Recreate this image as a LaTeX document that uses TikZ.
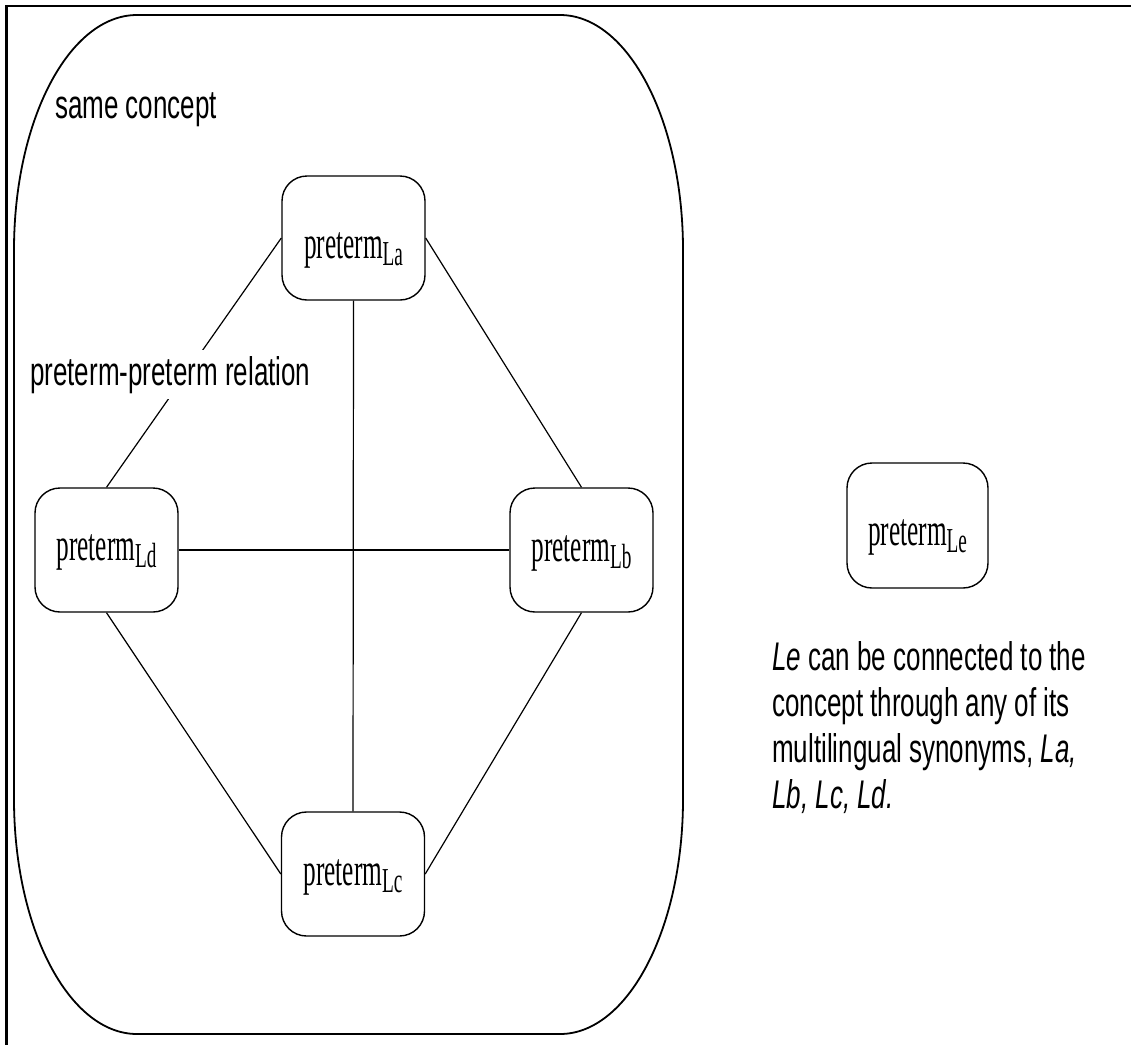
\documentclass[tikz,border=0pt]{standalone}
\usepackage{fontspec}
% narrow sans for the annotations, narrow serif for the term boxes
\newfontfamily\labelsans[FakeStretch=0.65]{Liberation Sans}
\newfontfamily\termserif[FakeStretch=0.55]{Liberation Serif}
\newcommand\term[1]{{\termserif\fontsize{46}{46}\selectfont preterm\raisebox{-7pt}{\fontsize{35}{35}\selectfont #1}}}
\newcommand\notefont{\labelsans\fontsize{40}{45.7}\selectfont}

\begin{document}
\begin{tikzpicture}[x=1pt, y=-1pt,
  pbox/.style={draw, line width=1.4pt, rounded corners=25pt,
    minimum width=143pt, minimum height=124pt, inner sep=0pt,
    text depth=0pt, text height=#1},
  link/.style={line width=1.2pt},
  note/.style={inner sep=0pt, font=\notefont}]

\useasboundingbox (0,0) rectangle (1131,1044);

% page frame (left and top edges)
\draw[line width=2.8pt] (6.5,1050) -- (6.5,6) -- (1140,6);

% the "same concept" region
\draw[line width=1.8pt]
  (14,250) .. controls (14,120.2) and (69.1,15) .. (137,15)
  -- (560,15) .. controls (627.9,15) and (683,120.2) .. (683,250)
  -- (683,799) .. controls (683,928.8) and (627.9,1034) .. (560,1034)
  -- (137,1034) .. controls (69.1,1034) and (14,928.8) .. (14,799)
  -- cycle;

\node[note, anchor=base west] (concept) at (55,118) {same concept};

% preterm boxes
\node[pbox=40pt] (La) at (353.5,238) {\term{La}};
\node[pbox=20pt] (Ld) at (106.5,550) {\term{Ld}};
\node[pbox=22pt] (Lb) at (581.5,550) {\term{Lb}};
\node[pbox=22pt] (Lc) at (353,874) {\term{Lc}};
\node[pbox=40pt, minimum width=141pt, minimum height=125pt] (Le) at (917.5,525.5) {\term{Le}};

% preterm-preterm relations
\draw[link] (La.west) -- (Ld.north);
\draw[link] (La.east) -- (Lb.north);
\draw[link] (La.south) -- (Lc.north);
\draw[link] (Ld.east) -- (Lb.west);
\draw[link] (Ld.south) -- (Lc.west);
\draw[link] (Lb.south) -- (Lc.east);

\node[note, fill=white, inner sep=6pt, anchor=base west] (rel) at (24,385) {preterm-preterm relation};

% explanation (anchored at the baseline of its last line)
\node[note, anchor=base west, align=left] (expl) at (772,808)
  {\textit{Le} can be connected to the\\
   concept through any of its\\
   multilingual synonyms, \textit{La,}\\
   \textit{Lb, Lc, Ld.}};

\end{tikzpicture}
\end{document}
